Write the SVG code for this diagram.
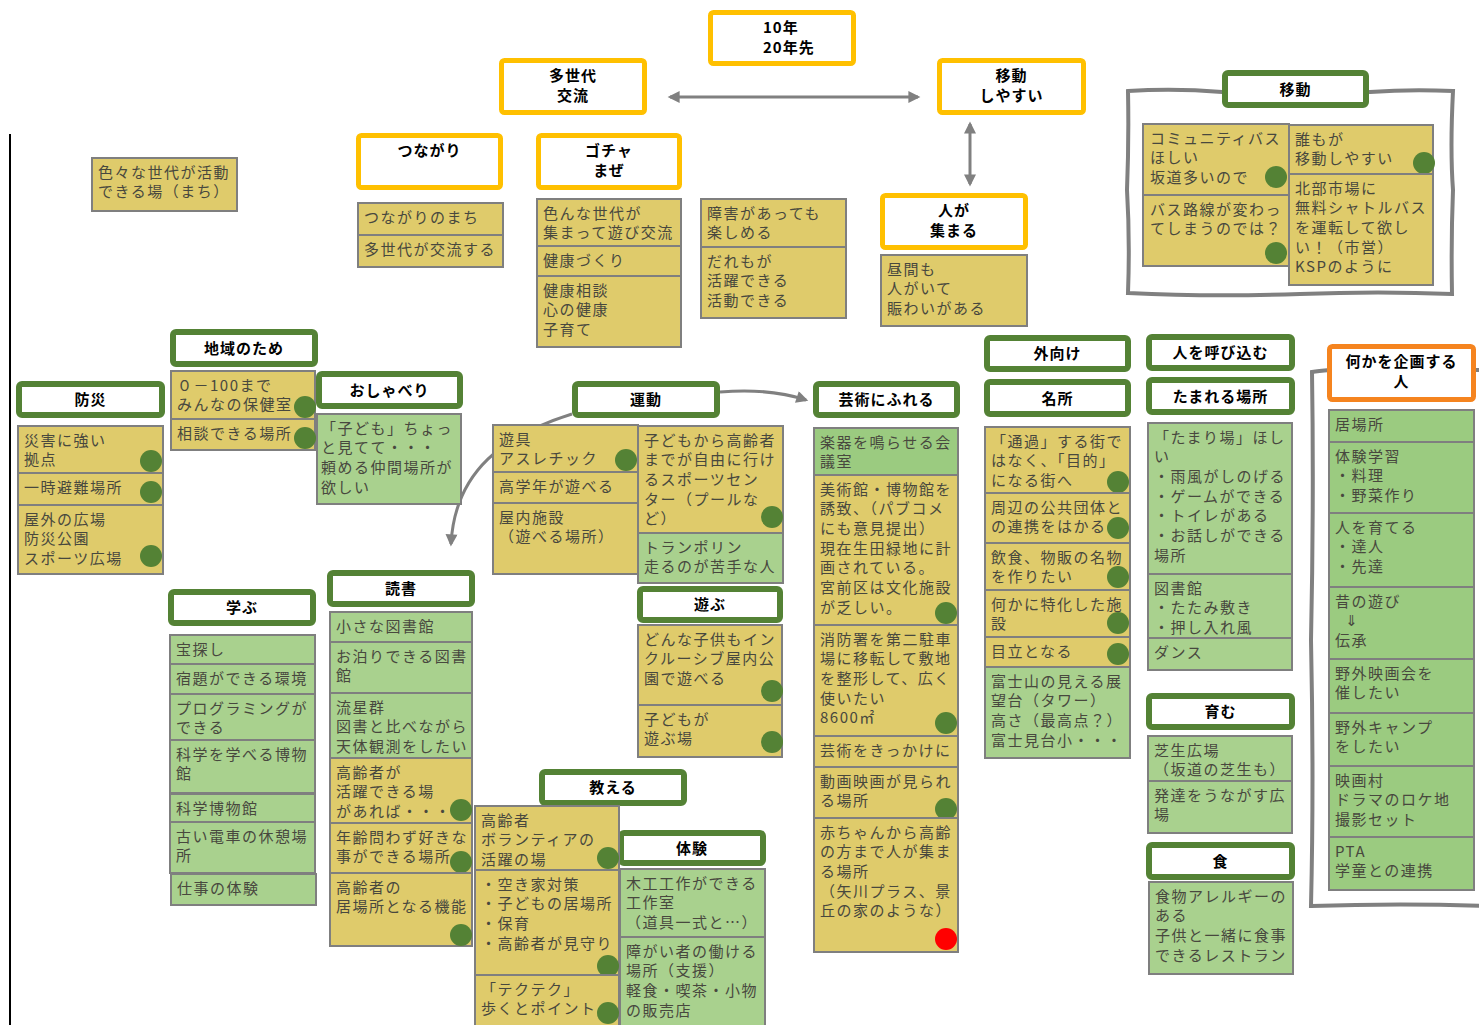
<svg xmlns="http://www.w3.org/2000/svg" width="1479" height="1025" viewBox="0 0 1479 1025">
<defs>
<style>
.hy{fill:#fff;stroke:#FFC000;stroke-width:5}
.hg{fill:#fff;stroke:#548235;stroke-width:6}
.ho{fill:#fff;stroke:#F5841F;stroke-width:5}
.sy{fill:#DFCB6B;stroke:#7F7F7F;stroke-width:2}
.sg{fill:#A9D18E;stroke:#7F7F7F;stroke-width:2}
.sg2{fill:#9BCB80;stroke:#7F7F7F;stroke-width:2}
.d{fill:#548235}
.dr{fill:#FF0000}
.t{font-family:"Noto Sans CJK JP","Noto Sans","DejaVu Sans",sans-serif;font-size:15px;fill:#48483E;letter-spacing:1.5px}
.h{font-family:"Noto Sans CJK JP","Noto Sans",sans-serif;font-size:15px;font-weight:bold;fill:#000;text-anchor:middle;letter-spacing:1px}
.c{fill:none;stroke:#808080;stroke-width:3}
.fr{fill:#fff;stroke:#808080;stroke-width:4}
</style>
<marker id="ah" viewBox="0 0 10 10" refX="8" refY="5" markerWidth="13" markerHeight="12" markerUnits="userSpaceOnUse" orient="auto-start-reverse">
<path d="M0,0 L10,5 L0,10 z" fill="#808080"/>
</marker>
</defs>
<rect width="1479" height="1025" fill="#fff"/>
<line x1="10" y1="134" x2="10" y2="1025" stroke="#000" stroke-width="2"/>
<path class="fr" d="M1128,91 Q1175,88 1222,92 L1370,92 Q1410,89 1453,91 Q1450,150 1453,190 Q1451,240 1452,294 Q1380,291 1300,294 Q1210,297 1128,293 Q1130,240 1127,190 Q1129,140 1128,91 Z"/>
<path class="fr" d="M1490,370 L1330,370 Q1318,371 1312,372 Q1314,500 1311,640 Q1314,780 1311,906 Q1400,903 1490,906"/>
<g id="connectors">
<line class="c" x1="670" y1="97" x2="918" y2="97" marker-start="url(#ah)" marker-end="url(#ah)"/>
<line class="c" x1="970" y1="124" x2="970" y2="184" marker-start="url(#ah)" marker-end="url(#ah)"/>
<path class="c" d="M572,414 C505,435 455,470 451,544" marker-end="url(#ah)"/>
<path class="c" d="M720,392 Q770,388 806,400" marker-end="url(#ah)"/>
</g>
<g id="h-10nen"><rect class="hy" x="710.5" y="12.5" width="143" height="51" rx="3"/><text class="h" x="763" y="33" style="text-anchor:start">10年<tspan x="763" dy="20">20年先</tspan></text></g>
<g id="h-tasedai"><rect class="hy" x="501.5" y="60.5" width="143" height="52" rx="3"/><text class="h" x="573" y="80.5">多世代<tspan x="573" dy="20">交流</tspan></text></g>
<g id="h-idou-shiyasui"><rect class="hy" x="939.5" y="60.5" width="144" height="52" rx="3"/><text class="h" x="1011.5" y="80.5">移動<tspan x="1011.5" dy="20">しやすい</tspan></text></g>
<g id="h-hitoga"><rect class="hy" x="882.5" y="195.5" width="143" height="52" rx="3"/><text class="h" x="954" y="215.5">人が<tspan x="954" dy="20">集まる</tspan></text></g>
<g id="h-tsunagari"><rect class="hy" x="358.5" y="135.5" width="142" height="52" rx="3"/><text class="h" x="429.5" y="155.5">つながり</text></g>
<g id="h-gochamaze"><rect class="hy" x="538.5" y="135.5" width="141" height="52" rx="3"/><text class="h" x="609" y="155.5">ゴチャ<tspan x="609" dy="20">まぜ</tspan></text></g>
<g id="h-kikaku"><rect class="ho" x="1329.5" y="346.5" width="144" height="53" rx="3"/><text class="h" x="1401.5" y="366.5">何かを企画する<tspan x="1401.5" dy="20">人</tspan></text></g>
<g id="h-idou"><rect class="hg" x="1225" y="73" width="141" height="32" rx="3"/><text class="h" x="1295.5" y="94.5">移動</text></g>
<g id="h-chiiki"><rect class="hg" x="173" y="332" width="142" height="32" rx="3"/><text class="h" x="244" y="353.5">地域のため</text></g>
<g id="h-bousai"><rect class="hg" x="19" y="384" width="143" height="31" rx="3"/><text class="h" x="90.5" y="405">防災</text></g>
<g id="h-oshaberi"><rect class="hg" x="319" y="374" width="141" height="32" rx="3"/><text class="h" x="389.5" y="395.5">おしゃべり</text></g>
<g id="h-undou"><rect class="hg" x="575" y="384" width="142" height="31" rx="3"/><text class="h" x="646" y="405">運動</text></g>
<g id="h-geijutsu"><rect class="hg" x="816" y="384" width="141" height="31" rx="3"/><text class="h" x="886.5" y="405">芸術にふれる</text></g>
<g id="h-sotomuke"><rect class="hg" x="987" y="338" width="141" height="31" rx="3"/><text class="h" x="1057.5" y="359">外向け</text></g>
<g id="h-meisho"><rect class="hg" x="987" y="382" width="141" height="32" rx="3"/><text class="h" x="1057.5" y="403.5">名所</text></g>
<g id="h-yobikomu"><rect class="hg" x="1149" y="337" width="143" height="31" rx="3"/><text class="h" x="1220.5" y="358">人を呼び込む</text></g>
<g id="h-tamareru"><rect class="hg" x="1149" y="380" width="143" height="32" rx="3"/><text class="h" x="1220.5" y="401.5">たまれる場所</text></g>
<g id="h-asobu"><rect class="hg" x="640" y="589" width="140" height="31" rx="3"/><text class="h" x="710" y="610">遊ぶ</text></g>
<g id="h-dokusho"><rect class="hg" x="330" y="573" width="142" height="31" rx="3"/><text class="h" x="401" y="594">読書</text></g>
<g id="h-manabu"><rect class="hg" x="171" y="592" width="142" height="31" rx="3"/><text class="h" x="242" y="613">学ぶ</text></g>
<g id="h-oshieru"><rect class="hg" x="542" y="772" width="142" height="31" rx="3"/><text class="h" x="613" y="793">教える</text></g>
<g id="h-taiken"><rect class="hg" x="621" y="833" width="142" height="30" rx="3"/><text class="h" x="692" y="853.5">体験</text></g>
<g id="h-hagukumu"><rect class="hg" x="1149" y="696" width="143" height="31" rx="3"/><text class="h" x="1220.5" y="717">育む</text></g>
<g id="h-shoku"><rect class="hg" x="1149" y="845" width="143" height="32" rx="3"/><text class="h" x="1220.5" y="866.5">食</text></g>

<g id="s-iroiro"><rect class="sy" x="92" y="158" width="145" height="53"/><text class="t" x="98" y="177.5">色々な世代が活動<tspan x="98" dy="19.7">できる場（まち）</tspan></text></g>
<g id="s-tsunagarinomachi"><rect class="sy" x="358" y="203" width="145" height="32"/><text class="t" x="364" y="222.5">つながりのまち</text></g>
<g id="s-tasedaikoryu"><rect class="sy" x="358" y="235" width="145" height="32"/><text class="t" x="364" y="254.5">多世代が交流する</text></g>
<g id="s-ironna"><rect class="sy" x="537" y="199" width="144" height="47"/><text class="t" x="543" y="218.5">色んな世代が<tspan x="543" dy="19.7">集まって遊び交流</tspan></text></g>
<g id="s-kenkou"><rect class="sy" x="537" y="246" width="144" height="30"/><text class="t" x="543" y="265.5">健康づくり</text></g>
<g id="s-kenkousoudan"><rect class="sy" x="537" y="276" width="144" height="71"/><text class="t" x="543" y="295.5">健康相談<tspan x="543" dy="19.7">心の健康</tspan><tspan x="543" dy="19.7">子育て</tspan></text></g>
<g id="s-shougai"><rect class="sy" x="701" y="199" width="145" height="48"/><text class="t" x="707" y="218.5">障害があっても<tspan x="707" dy="19.7">楽しめる</tspan></text></g>
<g id="s-daremoga"><rect class="sy" x="701" y="247" width="145" height="71"/><text class="t" x="707" y="266.5">だれもが<tspan x="707" dy="19.7">活躍できる</tspan><tspan x="707" dy="19.7">活動できる</tspan></text></g>
<g id="s-hirumamo"><rect class="sy" x="881" y="255" width="146" height="71"/><text class="t" x="887" y="274.5">昼間も<tspan x="887" dy="19.7">人がいて</tspan><tspan x="887" dy="19.7">賑わいがある</tspan></text></g>
<g id="s-community"><rect class="sy" x="1143" y="124" width="146" height="71"/><text class="t" x="1150" y="143.5">コミュニティバス<tspan x="1150" dy="19.7">ほしい</tspan><tspan x="1150" dy="19.7">坂道多いので</tspan></text><circle class="d" cx="1276" cy="177" r="11"/></g>
<g id="s-basurosen"><rect class="sy" x="1143" y="195" width="146" height="71"/><text class="t" x="1150" y="214.5">バス路線が変わっ<tspan x="1150" dy="19.7">てしまうのでは？</tspan></text><circle class="d" cx="1276" cy="253" r="11"/></g>
<g id="s-daremo"><rect class="sy" x="1289" y="125" width="144" height="49"/><text class="t" x="1295" y="144.5">誰もが<tspan x="1295" dy="19.7">移動しやすい</tspan></text><circle class="d" cx="1424" cy="163" r="11"/></g>
<g id="s-hokubu"><rect class="sy" x="1289" y="174" width="144" height="111"/><text class="t" x="1295" y="193.5">北部市場に<tspan x="1295" dy="19.7">無料シャトルバス</tspan><tspan x="1295" dy="19.7">を運転して欲し</tspan><tspan x="1295" dy="19.7">い！（市営）</tspan><tspan x="1295" dy="19.7">KSPのように</tspan></text></g>
<g id="s-hokenshitsu"><rect class="sy" x="171" y="371" width="144" height="48"/><text class="t" x="177" y="390.5">０－100まで<tspan x="177" dy="19.7">みんなの保健室</tspan></text><circle class="d" cx="305" cy="407" r="11"/></g>
<g id="s-soudan"><rect class="sy" x="171" y="419" width="144" height="31"/><text class="t" x="177" y="438.5">相談できる場所</text><circle class="d" cx="305" cy="438" r="11"/></g>
<g id="s-saigai"><rect class="sy" x="18" y="426" width="145" height="47"/><text class="t" x="24" y="445.5">災害に強い<tspan x="24" dy="19.7">拠点</tspan></text><circle class="d" cx="151" cy="461" r="11"/></g>
<g id="s-ichiji"><rect class="sy" x="18" y="473" width="145" height="32"/><text class="t" x="24" y="492.5">一時避難場所</text><circle class="d" cx="151" cy="492" r="11"/></g>
<g id="s-okugai"><rect class="sy" x="18" y="505" width="145" height="69"/><text class="t" x="24" y="524.5">屋外の広場<tspan x="24" dy="19.7">防災公園</tspan><tspan x="24" dy="19.7">スポーツ広場</tspan></text><circle class="d" cx="151" cy="556" r="11"/></g>
<g id="s-kodomo-chotto"><rect class="sg" x="317" y="414" width="144" height="90"/><text class="t" x="321" y="433.5">「子ども」ちょっ<tspan x="321" dy="19.7">と見てて・・・</tspan><tspan x="321" dy="19.7">頼める仲間場所が</tspan><tspan x="321" dy="19.7">欲しい</tspan></text></g>
<g id="s-yugu"><rect class="sy" x="493" y="425" width="145" height="47"/><text class="t" x="499" y="444.5">遊具<tspan x="499" dy="19.7">アスレチック</tspan></text><circle class="d" cx="626" cy="460" r="11"/></g>
<g id="s-kougakunen"><rect class="sy" x="493" y="472" width="145" height="31"/><text class="t" x="499" y="491.5">高学年が遊べる</text></g>
<g id="s-okunai"><rect class="sy" x="493" y="503" width="145" height="71"/><text class="t" x="499" y="522.5">屋内施設<tspan x="499" dy="19.7">（遊べる場所）</tspan></text></g>
<g id="s-sports"><rect class="sy" x="638" y="426" width="145" height="107"/><text class="t" x="644" y="445.5">子どもから高齢者<tspan x="644" dy="19.7">までが自由に行け</tspan><tspan x="644" dy="19.7">るスポーツセン</tspan><tspan x="644" dy="19.7">ター（プールな</tspan><tspan x="644" dy="19.7">ど）</tspan></text><circle class="d" cx="772" cy="517" r="11"/></g>
<g id="s-trampoline"><rect class="sg" x="638" y="533" width="145" height="50"/><text class="t" x="644" y="552.5">トランポリン<tspan x="644" dy="19.7">走るのが苦手な人</tspan></text></g>
<g id="s-gakki"><rect class="sg2" x="814" y="428" width="144" height="47"/><text class="t" x="820" y="447.5">楽器を鳴らせる会<tspan x="820" dy="19.7">議室</tspan></text></g>
<g id="s-bijutsukan"><rect class="sy" x="814" y="475" width="144" height="150"/><text class="t" x="820" y="494.5">美術館・博物館を<tspan x="820" dy="19.7">誘致、（パブコメ</tspan><tspan x="820" dy="19.7">にも意見提出）</tspan><tspan x="820" dy="19.7">現在生田緑地に計</tspan><tspan x="820" dy="19.7">画されている。</tspan><tspan x="820" dy="19.7">宮前区は文化施設</tspan><tspan x="820" dy="19.7">が乏しい。</tspan></text><circle class="d" cx="946" cy="613" r="11"/></g>
<g id="s-shouboushou"><rect class="sy" x="814" y="625" width="144" height="111"/><text class="t" x="820" y="644.5">消防署を第二駐車<tspan x="820" dy="19.7">場に移転して敷地</tspan><tspan x="820" dy="19.7">を整形して、広く</tspan><tspan x="820" dy="19.7">使いたい</tspan><tspan x="820" dy="19.7">8600㎡</tspan></text><circle class="d" cx="946" cy="723" r="11"/></g>
<g id="s-geijutsuwo"><rect class="sy" x="814" y="736" width="144" height="31"/><text class="t" x="820" y="755.5">芸術をきっかけに</text></g>
<g id="s-douga"><rect class="sy" x="814" y="767" width="144" height="51"/><text class="t" x="820" y="786.5">動画映画が見られ<tspan x="820" dy="19.7">る場所</tspan></text><circle class="d" cx="946" cy="809" r="11"/></g>
<g id="s-akachan"><rect class="sy" x="814" y="818" width="144" height="134"/><text class="t" x="820" y="837.5">赤ちゃんから高齢<tspan x="820" dy="19.7">の方まで人が集ま</tspan><tspan x="820" dy="19.7">る場所</tspan><tspan x="820" dy="19.7">（矢川プラス、景</tspan><tspan x="820" dy="19.7">丘の家のような）</tspan></text><circle class="dr" cx="946" cy="939" r="11"/></g>
<g id="s-donna"><rect class="sy" x="638" y="625" width="144" height="80"/><text class="t" x="644" y="644.5">どんな子供もイン<tspan x="644" dy="19.7">クルーシブ屋内公</tspan><tspan x="644" dy="19.7">園で遊べる</tspan></text><circle class="d" cx="772" cy="691" r="11"/></g>
<g id="s-kodomoga"><rect class="sy" x="638" y="705" width="144" height="52"/><text class="t" x="644" y="724.5">子どもが<tspan x="644" dy="19.7">遊ぶ場</tspan></text><circle class="d" cx="772" cy="742" r="11"/></g>
<g id="s-chiisana"><rect class="sg" x="330" y="612" width="142" height="30"/><text class="t" x="336" y="631.5">小さな図書館</text></g>
<g id="s-otomari"><rect class="sg" x="330" y="642" width="142" height="51"/><text class="t" x="336" y="661.5">お泊りできる図書<tspan x="336" dy="19.7">館</tspan></text></g>
<g id="s-ryuuseigun"><rect class="sg" x="330" y="693" width="142" height="65"/><text class="t" x="336" y="712.5">流星群<tspan x="336" dy="19.7">図書と比べながら</tspan><tspan x="336" dy="19.7">天体観測をしたい</tspan></text></g>
<g id="s-koureishaga"><rect class="sy" x="330" y="758" width="142" height="65"/><text class="t" x="336" y="777.5">高齢者が<tspan x="336" dy="19.7">活躍できる場</tspan><tspan x="336" dy="19.7">があれば・・・</tspan></text><circle class="d" cx="461" cy="810" r="11"/></g>
<g id="s-nenrei"><rect class="sy" x="330" y="823" width="142" height="50"/><text class="t" x="336" y="842.5">年齢問わず好きな<tspan x="336" dy="19.7">事ができる場所</tspan></text><circle class="d" cx="461" cy="862" r="11"/></g>
<g id="s-koureishano"><rect class="sy" x="330" y="873" width="142" height="73"/><text class="t" x="336" y="892.5">高齢者の<tspan x="336" dy="19.7">居場所となる機能</tspan></text><circle class="d" cx="461" cy="935" r="11"/></g>
<g id="s-takarasagashi"><rect class="sg" x="170" y="635" width="145" height="29"/><text class="t" x="176" y="654.5">宝探し</text></g>
<g id="s-shukudai"><rect class="sg" x="170" y="664" width="145" height="30"/><text class="t" x="176" y="683.5">宿題ができる環境</text></g>
<g id="s-programming"><rect class="sg" x="170" y="694" width="145" height="46"/><text class="t" x="176" y="713.5">プログラミングが<tspan x="176" dy="19.7">できる</tspan></text></g>
<g id="s-kagakuwo"><rect class="sg" x="170" y="740" width="145" height="53"/><text class="t" x="176" y="759.5">科学を学べる博物<tspan x="176" dy="19.7">館</tspan></text></g>
<g id="s-kagakuhakubutsukan"><rect class="sg" x="170" y="794" width="145" height="28"/><text class="t" x="176" y="813.5">科学博物館</text></g>
<g id="s-furuidensha"><rect class="sg" x="170" y="822" width="145" height="51"/><text class="t" x="176" y="841.5">古い電車の休憩場<tspan x="176" dy="19.7">所</tspan></text></g>
<g id="s-shigoto"><rect class="sg" x="171" y="874" width="145" height="31"/><text class="t" x="177" y="893.5">仕事の体験</text></g>
<g id="s-volunteer"><rect class="sy" x="475" y="806" width="144" height="64"/><text class="t" x="481" y="825.5">高齢者<tspan x="481" dy="19.7">ボランティアの</tspan><tspan x="481" dy="19.7">活躍の場</tspan></text><circle class="d" cx="608" cy="858" r="11"/></g>
<g id="s-akiya"><rect class="sy" x="475" y="870" width="144" height="105"/><text class="t" x="481" y="889.5">・空き家対策<tspan x="481" dy="19.7">・子どもの居場所</tspan><tspan x="481" dy="19.7">・保育</tspan><tspan x="481" dy="19.7">・高齢者が見守り</tspan></text><circle class="d" cx="608" cy="966" r="11"/></g>
<g id="s-tekuteku"><rect class="sy" x="475" y="975" width="144" height="55"/><text class="t" x="481" y="994.5">「テクテク」<tspan x="481" dy="19.7">歩くとポイント</tspan></text><circle class="d" cx="608" cy="1013" r="11"/></g>
<g id="s-mokkou"><rect class="sg" x="620" y="869" width="145" height="68"/><text class="t" x="626" y="888.5">木工工作ができる<tspan x="626" dy="19.7">工作室</tspan><tspan x="626" dy="19.7">（道具一式と…）</tspan></text></g>
<g id="s-shougaisha"><rect class="sg" x="620" y="937" width="145" height="90"/><text class="t" x="626" y="956.5">障がい者の働ける<tspan x="626" dy="19.7">場所（支援）</tspan><tspan x="626" dy="19.7">軽食・喫茶・小物</tspan><tspan x="626" dy="19.7">の販売店</tspan></text></g>
<g id="s-tsuuka"><rect class="sy" x="985" y="427" width="145" height="66"/><text class="t" x="991" y="446.5">「通過」する街で<tspan x="991" dy="19.7">はなく、「目的」</tspan><tspan x="991" dy="19.7">になる街へ</tspan></text><circle class="d" cx="1118" cy="482" r="11"/></g>
<g id="s-shuuhen"><rect class="sy" x="985" y="493" width="145" height="50"/><text class="t" x="991" y="512.5">周辺の公共団体と<tspan x="991" dy="19.7">の連携をはかる</tspan></text><circle class="d" cx="1118" cy="528" r="11"/></g>
<g id="s-inshoku"><rect class="sy" x="985" y="543" width="145" height="47"/><text class="t" x="991" y="562.5">飲食、物販の名物<tspan x="991" dy="19.7">を作りたい</tspan></text><circle class="d" cx="1118" cy="577" r="11"/></g>
<g id="s-tokka"><rect class="sy" x="985" y="590" width="145" height="47"/><text class="t" x="991" y="609.5">何かに特化した施<tspan x="991" dy="19.7">設</tspan></text><circle class="d" cx="1118" cy="623" r="11"/></g>
<g id="s-medatsu"><rect class="sy" x="985" y="637" width="145" height="30"/><text class="t" x="991" y="656.5">目立となる</text><circle class="d" cx="1118" cy="654" r="11"/></g>
<g id="s-fujisan"><rect class="sg" x="985" y="667" width="145" height="91"/><text class="t" x="991" y="686.5">富士山の見える展<tspan x="991" dy="19.7">望台（タワー）</tspan><tspan x="991" dy="19.7">高さ（最高点？）</tspan><tspan x="991" dy="19.7">富士見台小・・・</tspan></text></g>
<g id="s-tamariba"><rect class="sg" x="1148" y="423" width="144" height="151"/><text class="t" x="1154" y="442.5">「たまり場」ほし<tspan x="1154" dy="19.7">い</tspan><tspan x="1154" dy="19.7">・雨風がしのげる</tspan><tspan x="1154" dy="19.7">・ゲームができる</tspan><tspan x="1154" dy="19.7">・トイレがある</tspan><tspan x="1154" dy="19.7">・お話しができる</tspan><tspan x="1154" dy="19.7">場所</tspan></text></g>
<g id="s-toshokan"><rect class="sg" x="1148" y="574" width="144" height="64"/><text class="t" x="1154" y="593.5">図書館<tspan x="1154" dy="19.7">・たたみ敷き</tspan><tspan x="1154" dy="19.7">・押し入れ風</tspan></text></g>
<g id="s-dance"><rect class="sg" x="1148" y="638" width="144" height="32"/><text class="t" x="1154" y="657.5">ダンス</text></g>
<g id="s-shibafu"><rect class="sg" x="1148" y="736" width="144" height="45"/><text class="t" x="1154" y="755.5">芝生広場<tspan x="1154" dy="19.7">（坂道の芝生も）</tspan></text></g>
<g id="s-hattatsu"><rect class="sg" x="1148" y="781" width="144" height="52"/><text class="t" x="1154" y="800.5">発達をうながす広<tspan x="1154" dy="19.7">場</tspan></text></g>
<g id="s-allergy"><rect class="sg" x="1149" y="882" width="144" height="92"/><text class="t" x="1155" y="901.5">食物アレルギーの<tspan x="1155" dy="19.7">ある</tspan><tspan x="1155" dy="19.7">子供と一緒に食事</tspan><tspan x="1155" dy="19.7">できるレストラン</tspan></text></g>
<g id="s-ibasho"><rect class="sg2" x="1329" y="410" width="145" height="32"/><text class="t" x="1335" y="429.5">居場所</text></g>
<g id="s-taikengakushu"><rect class="sg2" x="1329" y="442" width="145" height="71"/><text class="t" x="1335" y="461.5">体験学習<tspan x="1335" dy="19.7">・料理</tspan><tspan x="1335" dy="19.7">・野菜作り</tspan></text></g>
<g id="s-sodateru"><rect class="sg2" x="1329" y="513" width="145" height="74"/><text class="t" x="1335" y="532.5">人を育てる<tspan x="1335" dy="19.7">・達人</tspan><tspan x="1335" dy="19.7">・先達</tspan></text></g>
<g id="s-mukashi"><rect class="sg2" x="1329" y="587" width="145" height="72"/><text class="t" x="1335" y="606.5">昔の遊び<tspan x="1345" dy="19.7">⇓</tspan><tspan x="1335" dy="19.7">伝承</tspan></text></g>
<g id="s-yagaieiga"><rect class="sg2" x="1329" y="659" width="145" height="54"/><text class="t" x="1335" y="678.5">野外映画会を<tspan x="1335" dy="19.7">催したい</tspan></text></g>
<g id="s-camp"><rect class="sg2" x="1329" y="713" width="145" height="53"/><text class="t" x="1335" y="732.5">野外キャンプ<tspan x="1335" dy="19.7">をしたい</tspan></text></g>
<g id="s-eigamura"><rect class="sg2" x="1329" y="766" width="145" height="71"/><text class="t" x="1335" y="785.5">映画村<tspan x="1335" dy="19.7">ドラマのロケ地</tspan><tspan x="1335" dy="19.7">撮影セット</tspan></text></g>
<g id="s-pta"><rect class="sg2" x="1329" y="837" width="145" height="53"/><text class="t" x="1335" y="856.5">PTA<tspan x="1335" dy="19.7">学童との連携</tspan></text></g>
</svg>
